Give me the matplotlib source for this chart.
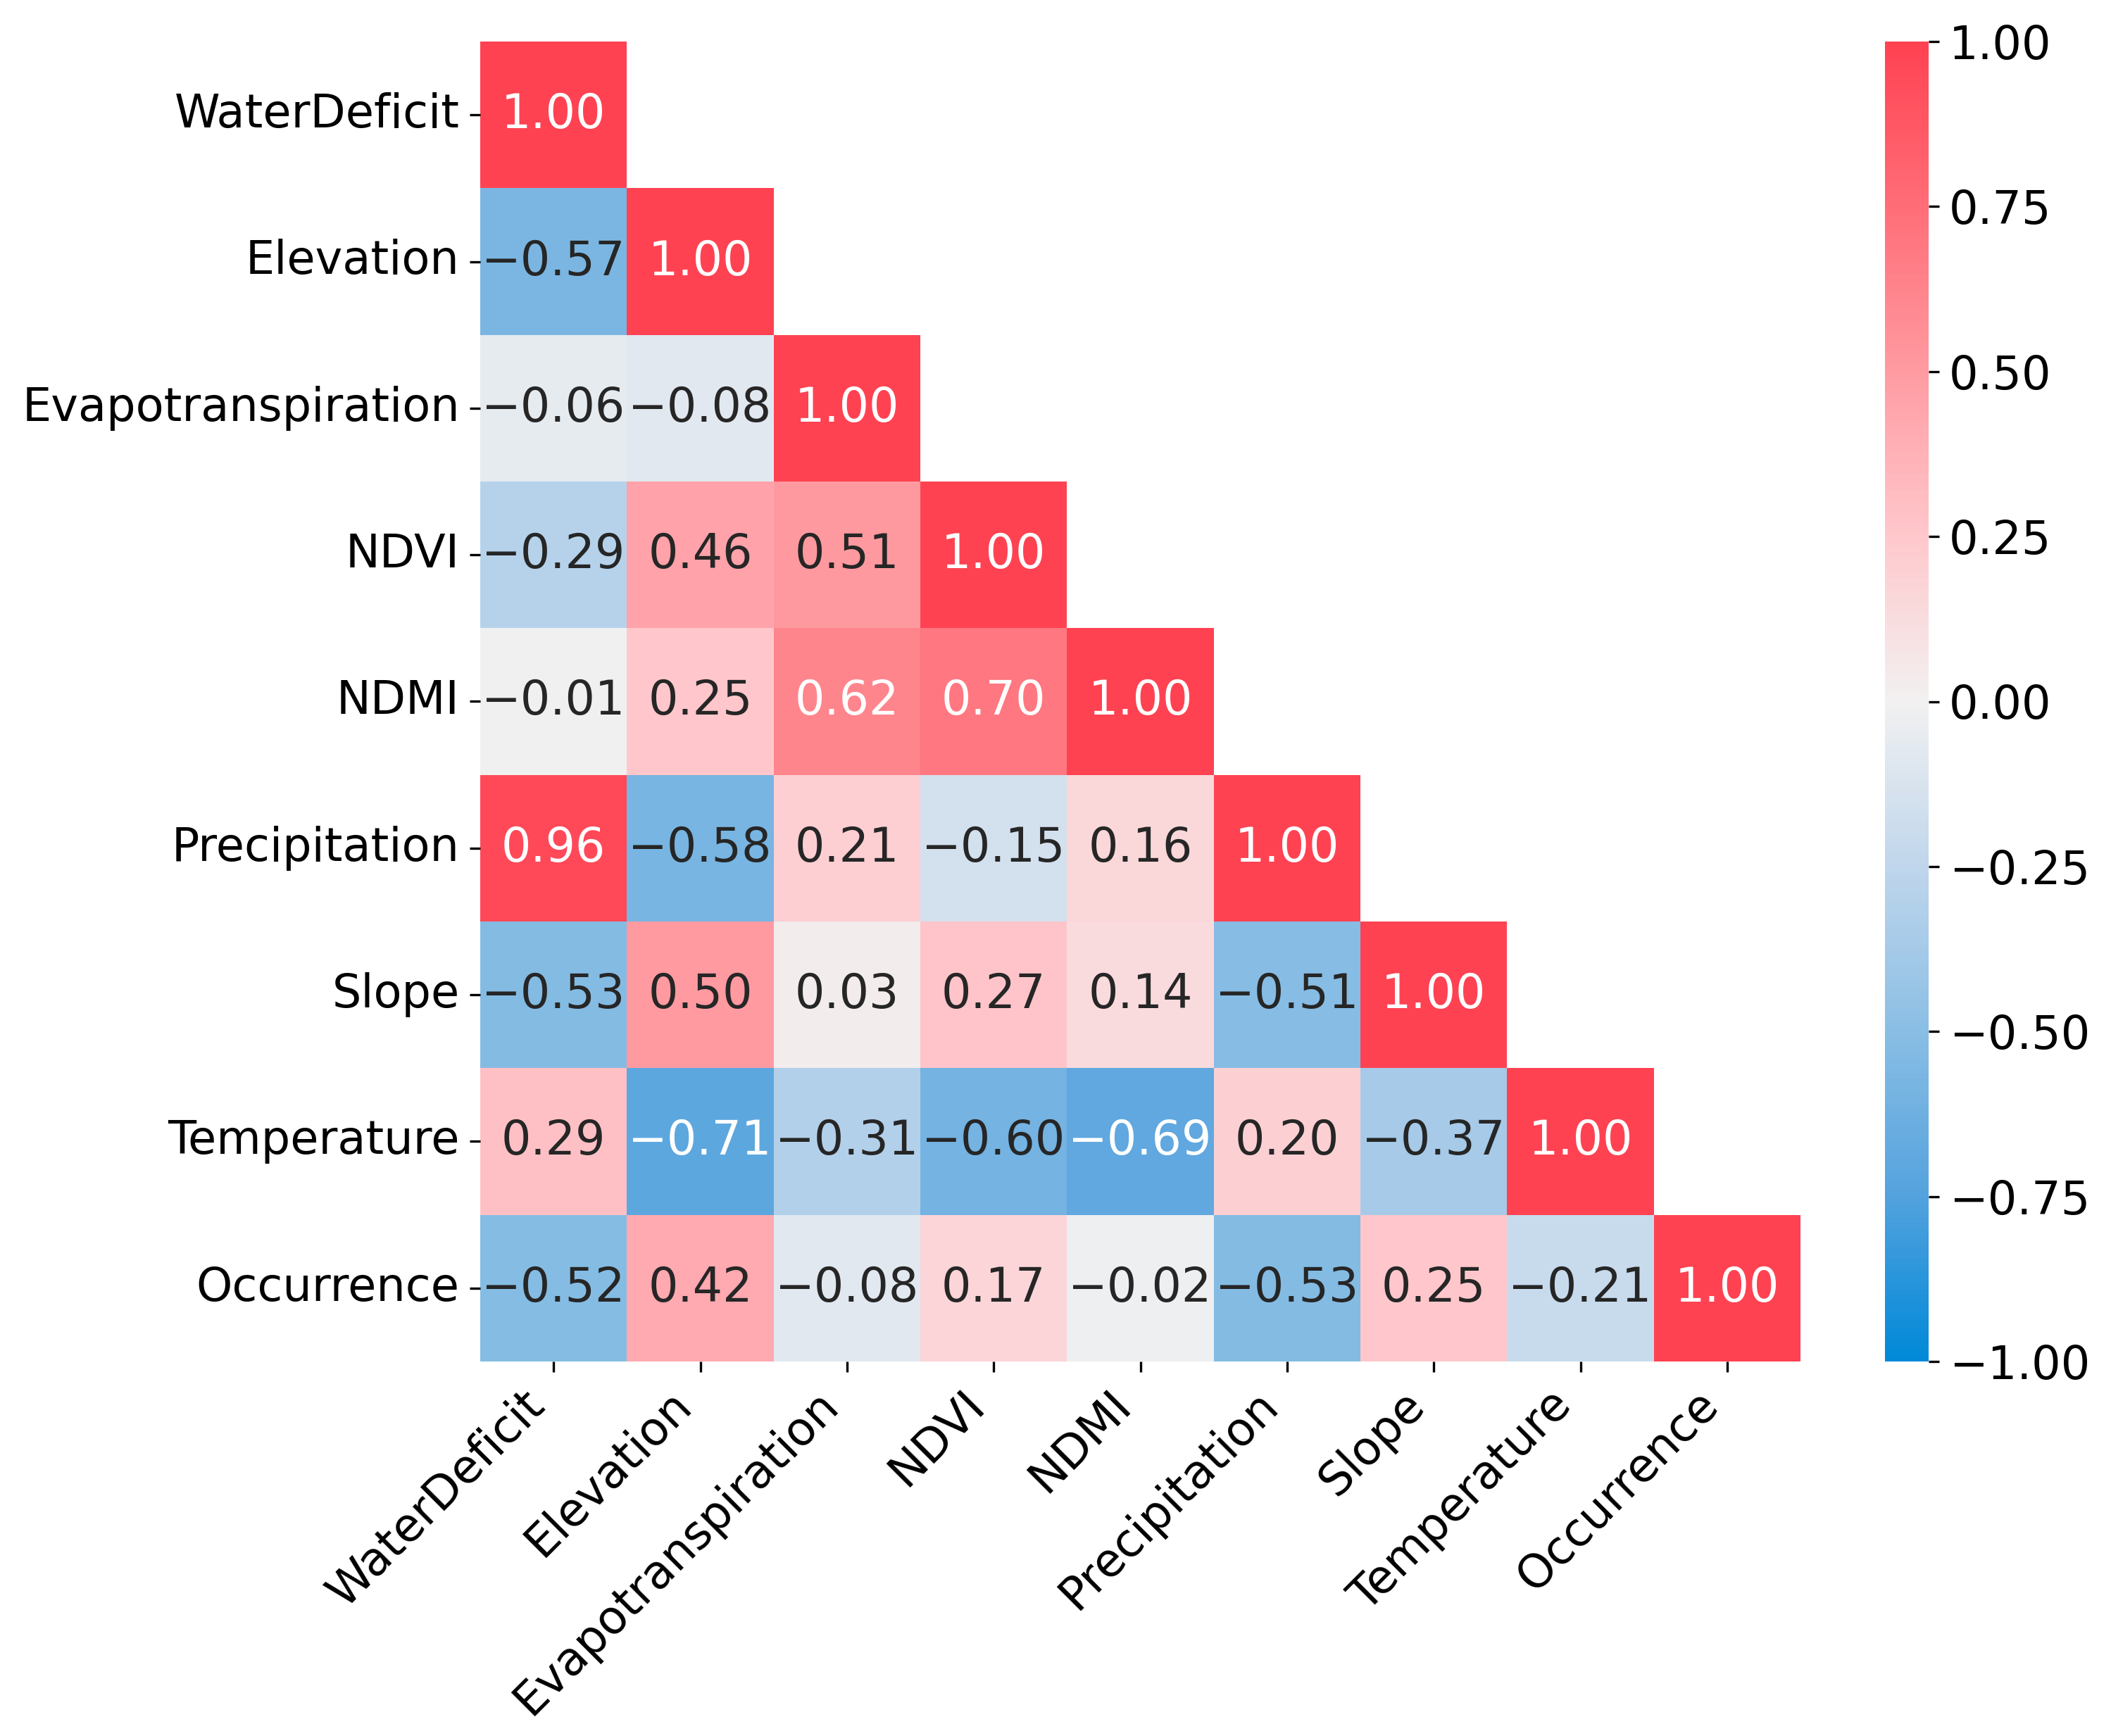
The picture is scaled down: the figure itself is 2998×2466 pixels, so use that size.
import numpy as np
import matplotlib
matplotlib.use("Agg")
import matplotlib.pyplot as plt
from matplotlib.colors import LinearSegmentedColormap
import seaborn as sns

variables = ["WaterDeficit", "Elevation", "Evapotranspiration", "NDVI", "NDMI",
             "Precipitation", "Slope", "Temperature", "Occurrence"]

row_waterdeficit = [1.00]
row_elevation = [-0.57, 1.00]
row_evapotranspiration = [-0.06, -0.08, 1.00]
row_ndvi = [-0.29, 0.46, 0.51, 1.00]
row_ndmi = [-0.01, 0.25, 0.62, 0.70, 1.00]
row_precipitation = [0.96, -0.58, 0.21, -0.15, 0.16, 1.00]
row_slope = [-0.53, 0.50, 0.03, 0.27, 0.14, -0.51, 1.00]
row_temperature = [0.29, -0.71, -0.31, -0.60, -0.69, 0.20, -0.37, 1.00]
row_occurrence = [-0.52, 0.42, -0.08, 0.17, -0.02, -0.53, 0.25, -0.21, 1.00]

rows = [row_waterdeficit, row_elevation, row_evapotranspiration, row_ndvi, row_ndmi,
        row_precipitation, row_slope, row_temperature, row_occurrence]

cbar_ticks = [-1.0, -0.75, -0.5, -0.25, 0.0, 0.25, 0.5, 0.75, 1.0]

n = len(variables)
corr = np.zeros((n, n))
for i, r in enumerate(rows):
    for j, v in enumerate(r):
        corr[i, j] = v
        corr[j, i] = v
mask = np.triu(np.ones_like(corr, dtype=bool), k=1)
labels = np.array([[f"{v:.2f}".replace("-", "\u2212") for v in row] for row in corr])

nodes = [
    (0.000, (0, 137, 216)),
    (0.125, (84, 162, 222)),
    (0.250, (138, 190, 228)),
    (0.375, (192, 214, 236)),
    (0.500, (242, 241, 241)),
    (0.625, (255, 200, 204)),
    (0.750, (255, 155, 162)),
    (0.875, (255, 110, 120)),
    (1.000, (255, 66, 82)),
]
cmap = LinearSegmentedColormap.from_list(
    "div", [(p, tuple(c / 255 for c in col)) for p, col in nodes])

W, H = 2998, 2466
fig = plt.figure(figsize=(W / 300, H / 300), dpi=300)
ax = fig.add_axes([682 / W, 1 - 1934 / H, (2557 - 682) / W, (1934 - 59) / H])
cax = fig.add_axes([2677 / W, 1 - 1934 / H, 62 / W, (1934 - 59) / H])

sns.heatmap(corr, mask=mask, cmap=cmap, vmin=-1, vmax=1, center=0,
            annot=labels, fmt="", annot_kws={"size": 16},
            xticklabels=variables, yticklabels=variables,
            ax=ax, cbar_ax=cax)

ax.set_xticklabels(variables, rotation=45, ha="right", fontsize=15.7)
ax.set_yticklabels(variables, rotation=0, fontsize=15.7)
cax.set_yticks(cbar_ticks)
cax.set_yticklabels([f"{t:.2f}".replace("-", "\u2212") for t in cbar_ticks])
cax.tick_params(labelsize=15.7)

fig.savefig("out.png", dpi=300)
